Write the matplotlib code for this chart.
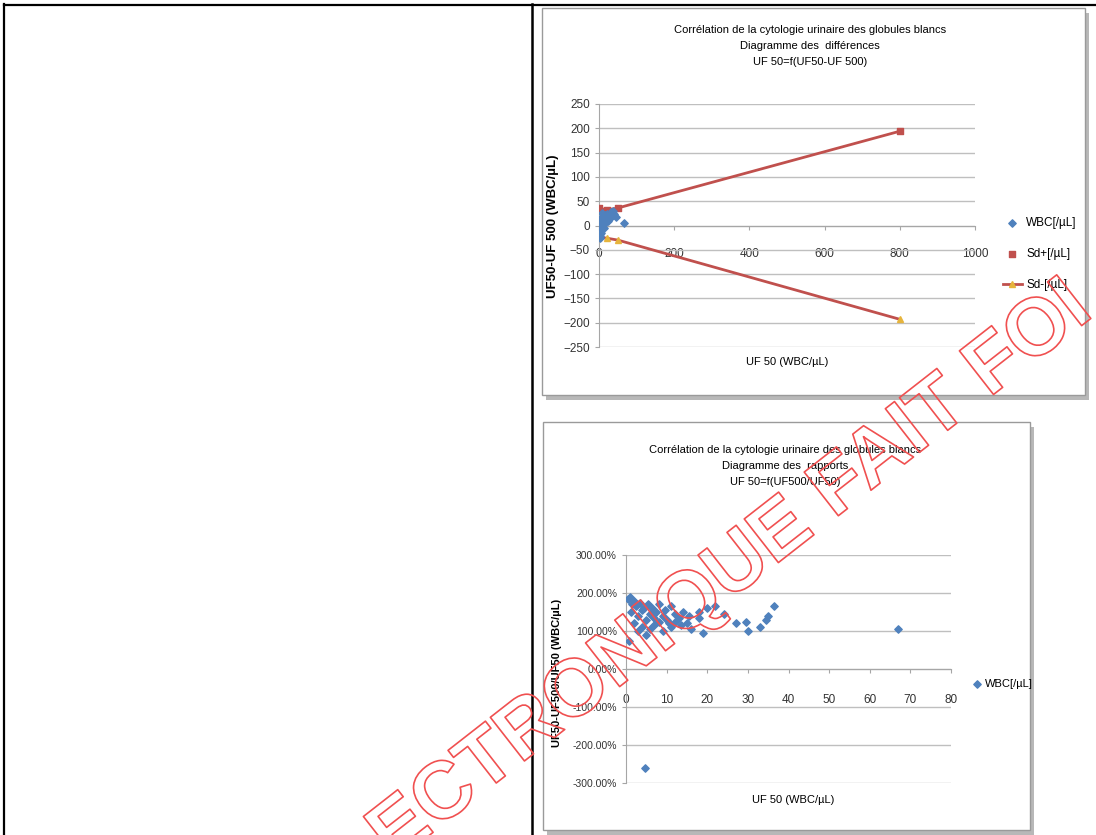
import matplotlib
matplotlib.use("Agg")
import matplotlib.pyplot as plt
import matplotlib.patheffects as pe
from matplotlib.patches import Rectangle
from matplotlib.lines import Line2D

plt.rcParams["font.family"] = ["Liberation Sans Narrow", "Liberation Sans", "DejaVu Sans"]

# Chart 1 : diagramme des differences
diff_x = [1, 1, 2, 2, 3, 3, 4, 4, 5, 5, 6, 7, 7, 8, 9, 10, 10, 11, 12, 13, 14,
          15, 16, 18, 20, 22, 24, 26, 28, 30, 33, 35, 38, 40, 45, 2, 3, 6, 8, 12, 67]
diff_y = [2, -5, 8, -12, 5, -18, 10, -3, 14, 0, -8, 6, 18, -2, 12, 4, 20, 9, -6, 15, 7,
          22, 11, 17, 13, 24, 10, 19, 26, 15, 28, 20, 30, 24, 18, -22, -25, -15, 25, 3, 6]
sd_plus_x = [0, 20, 50, 800]
sd_plus_y = [36, 32, 36, 194]
sd_minus_x = [0, 20, 50, 800]
sd_minus_y = [-24, -26, -30, -193]
diff_xticks = [0, 200, 400, 600, 800, 1000]
diff_yticks = [-250, -200, -150, -100, -50, 0, 50, 100, 150, 200, 250]

# Chart 2 : diagramme des rapports (en %)
ratio_x = [0.5, 0.8, 1, 1.2, 1.5, 2, 2, 2.5, 3, 3, 3.5, 4, 4, 4.5, 5, 5, 5.5, 6, 6, 6.5,
           7, 7, 7.5, 8, 8, 9, 9, 9.5, 10, 10.5, 11, 11, 12, 12, 13, 13.5, 14, 15, 15.5, 16,
           18, 18, 19, 20, 22, 24, 27, 29.5, 30, 33, 34.5, 35, 36.5, 67, 4.7]
ratio_pct = [185, 75, 190, 150, 170, 180, 120, 165, 140, 100, 175, 155, 110, 160, 130, 90, 170, 145, 105, 160,
             135, 115, 150, 170, 125, 140, 100, 155, 130, 120, 165, 110, 145, 125, 135, 115, 150, 120, 140, 105,
             135, 150, 95, 160, 165, 145, 120, 125, 100, 110, 130, 140, 165, 105, -260]
ratio_xticks = [0, 10, 20, 30, 40, 50, 60, 70, 80]
ratio_yticks = [-300, -200, -100, 0, 100, 200, 300]

title_lines_1 = ["Corrélation de la cytologie urinaire des globules blancs",
                 "Diagramme des  différences", "UF 50=f(UF50-UF 500)"]
title_lines_2 = ["Corrélation de la cytologie urinaire des globules blancs",
                 "Diagramme des  rapports", "UF 50=f(UF500/UF50)"]

BLUE = "#4F81BD"
RED = "#C0504D"
ORANGE = "#E6B43C"
GRID = "#BFBFBF"
W, H = 1096, 835


def fx(x):
    return x / W


def fy(y):
    return 1 - y / H


fig = plt.figure(figsize=(10.96, 8.35), dpi=100)

# table borders of the page
for xs, ys, lw in [((4, 4), (4, 835), 1.6), ((532, 532), (4, 835), 1.8), ((4, 1096), (5, 5), 1.6)]:
    fig.add_artist(Line2D([fx(x) for x in xs], [fy(y) for y in ys], color="black", lw=lw))

# chart frames with a grey shadow
for x0, y0, x1, y1 in [(542, 8, 1085, 395), (543, 422, 1030, 830)]:
    fig.add_artist(Rectangle((fx(x0 + 4), fy(y1 + 5)), fx(x1 - x0), (y1 - y0) / H,
                             transform=fig.transFigure, facecolor="#B8B8B8", edgecolor="none", zorder=-2))
    fig.add_artist(Rectangle((fx(x0), fy(y1)), fx(x1 - x0), (y1 - y0) / H,
                             transform=fig.transFigure, facecolor="white", edgecolor="#9A9A9A", lw=1, zorder=-1))


def style_axes(ax, pad):
    ax.set_facecolor("none")
    for s in ["top", "right"]:
        ax.spines[s].set_visible(False)
    ax.spines["left"].set_position(("data", 0))
    ax.spines["bottom"].set_position(("data", 0))
    ax.spines["left"].set_color("#A6A6A6")
    ax.spines["bottom"].set_color("#A6A6A6")
    ax.grid(axis="y", color=GRID, lw=1)
    ax.set_axisbelow(True)
    ax.tick_params(axis="both", colors="#A6A6A6", labelcolor="#333333", labelsize=8.5, length=3)
    ax.tick_params(axis="x", pad=pad)


# ---- chart 1
ax1 = fig.add_axes([fx(599), fy(347), fx(975 - 599), (347 - 104) / H])
style_axes(ax1, 13)
ax1.scatter(diff_x, diff_y, marker="D", s=14, color=BLUE, zorder=4, label="WBC[/µL]")
ax1.plot(sd_plus_x, sd_plus_y, color=RED, lw=2, zorder=3)
ax1.scatter(sd_plus_x, sd_plus_y, marker="s", s=22, color=RED, zorder=3, label="Sd+[/µL]")
ax1.plot(sd_minus_x, sd_minus_y, color=RED, lw=2, marker="^", ms=5, mfc=ORANGE, mec=ORANGE,
         zorder=3, label="Sd-[/µL]")
ax1.set_xlim(0, 1000)
ax1.set_ylim(-250, 250)
ax1.set_xticks(diff_xticks)
ax1.set_yticks(diff_yticks)
ax1.legend(loc="center left", bbox_to_anchor=(fx(998), fy(254)), bbox_transform=fig.transFigure,
           frameon=False, fontsize=8.5, labelspacing=1.6, handlelength=1.6, handletextpad=0.4,
           borderaxespad=0)

for i, line in enumerate(title_lines_1):
    fig.text(fx(810), fy(30 + 16 * i), line, ha="center", va="center", fontsize=8)
fig.text(fx(553), fy(226), "UF50-UF 500 (WBC/µL)", rotation=90, ha="center", va="center",
         fontsize=9.5, fontweight="bold", family=["Liberation Sans", "DejaVu Sans"])
fig.text(fx(787), fy(362), "UF 50 (WBC/µL)", ha="center", va="center", fontsize=8)

# ---- chart 2
ax2 = fig.add_axes([fx(626), fy(783), fx(951 - 626), (783 - 555) / H])
style_axes(ax2, 15)
ax2.tick_params(axis="y", labelsize=7.5)
ax2.scatter(ratio_x, ratio_pct, marker="D", s=14, color=BLUE, zorder=4, label="WBC[/µL]")
ax2.set_xlim(0, 80)
ax2.set_ylim(-300, 300)
ax2.set_xticks(ratio_xticks)
ax2.set_yticks(ratio_yticks)
ax2.set_yticklabels(["{:.2f}%".format(v) for v in ratio_yticks])
ax2.legend(loc="center left", bbox_to_anchor=(fx(968), fy(684)), bbox_transform=fig.transFigure,
           frameon=False, fontsize=8, handlelength=0.8, handletextpad=0.3, borderaxespad=0)

for i, line in enumerate(title_lines_2):
    fig.text(fx(785), fy(450 + 16 * i), line, ha="center", va="center", fontsize=8)
fig.text(fx(557), fy(673), "UF50-UF500/UF50 (WBC/µL)", rotation=90, ha="center", va="center",
         fontsize=8, fontweight="bold", family=["Liberation Sans", "DejaVu Sans"])
fig.text(fx(793), fy(800), "UF 50 (WBC/µL)", ha="center", va="center", fontsize=8)

# watermark (outlined red letters)
fig.text(fx(1094), fy(316), "COPIE ÉLECTRONIQUE FAIT FOI", rotation=38, rotation_mode="anchor",
         ha="right", va="baseline", fontsize=58, fontweight="bold", family=["Liberation Sans", "DejaVu Sans"],
         color="none", path_effects=[pe.Stroke(linewidth=1.2, foreground="#F05050")], zorder=10)

fig.savefig("out.png", dpi=100)
